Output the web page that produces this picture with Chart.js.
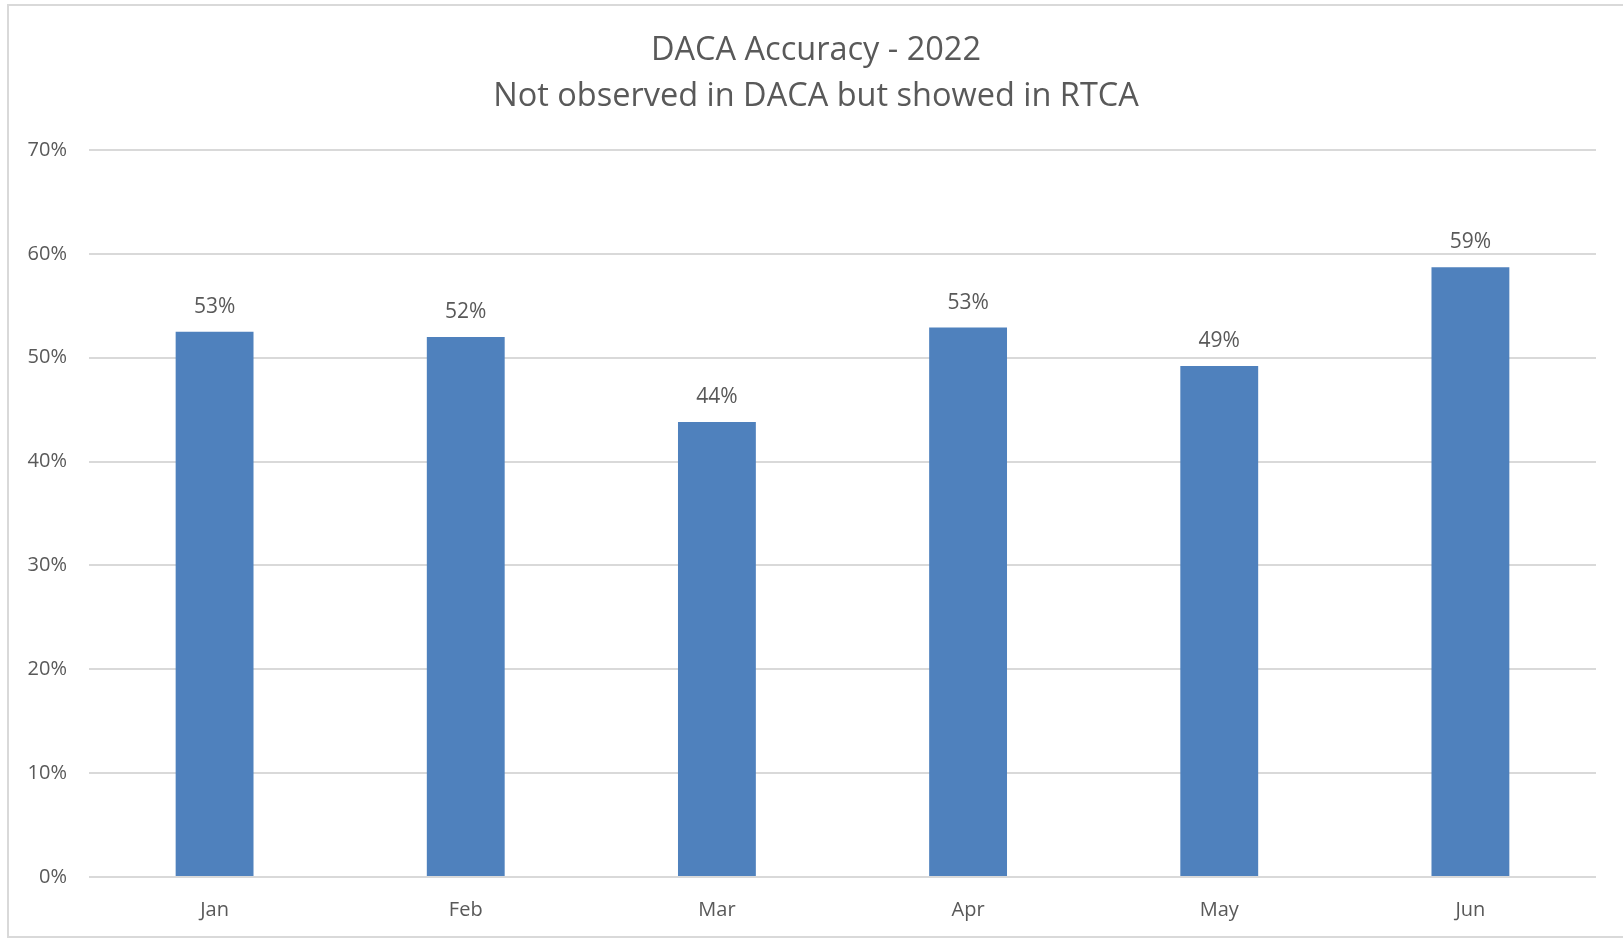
<!DOCTYPE html>
<html>
<head>
<meta charset="utf-8">
<script src="https://cdn.jsdelivr.net/npm/chart.js@4.4.0/dist/chart.umd.min.js"></script>
<style>
  html, body { margin: 0; padding: 0; background: #fff; }
  #wrap { width: 1623px; height: 939px; position: relative; }
</style>
</head>
<body>
<div id="wrap"><canvas id="chart"></canvas></div>
<script>
const months = ['Jan', 'Feb', 'Mar', 'Apr', 'May', 'Jun'];
const accuracy = [52.5, 52.0, 43.8, 52.9, 49.2, 58.7];
const titleLines = ['DACA Accuracy - 2022', 'Not observed in DACA but showed in RTCA'];

const textGrey = '#595959';
const barBlue = '#4F81BD';

// frame around the whole chart, like the Excel chart area
const frame = {
    id: 'frame',
    afterLayout(chart) {
        // center the title over the whole frame, not the padded box
        if (chart.titleBlock) {
            chart.titleBlock.left = 9;
            chart.titleBlock.right = chart.width;
        }
    },
    beforeDraw(chart) {
        const c = chart.ctx;
        c.save();
        c.strokeStyle = '#D9D9D9';
        c.lineWidth = 2;
        c.strokeRect(8, 5, chart.width + 20, chart.height - 7);
        c.restore();
    }
};

// value labels above each bar
const barLabels = {
    id: 'barLabels',
    afterDatasetsDraw(chart) {
        const c = chart.ctx;
        const meta = chart.getDatasetMeta(0);
        c.save();
        c.fillStyle = textGrey;
        c.font = '21px "Open Sans"';
        c.textAlign = 'center';
        c.textBaseline = 'alphabetic';
        meta.data.forEach((bar, i) => {
            const v = chart.data.datasets[0].data[i];
            c.fillText(Math.round(v) + '%', bar.x, bar.y - 19);
        });
        c.restore();
    }
};

const ctx = document.getElementById('chart').getContext('2d');
const myChart = new Chart(ctx, {
    type: 'bar',
    data: {
        labels: months,
        datasets: [
            {
                label: 'Accuracy',
                data: accuracy,
                backgroundColor: barBlue,
                borderWidth: 0,
                categoryPercentage: 1,
                barPercentage: 0.31
            }
        ]
    },
    options: {
        responsive: true,
        maintainAspectRatio: false,
        animation: false,
        layout: {
            padding: { left: 0, right: 27, top: 0, bottom: 0 }
        },
        plugins: {
            legend: { display: false },
            tooltip: { enabled: false },
            title: {
                display: true,
                text: titleLines,
                color: textGrey,
                font: { family: 'Open Sans', size: 32.5, weight: 'normal', lineHeight: 1.4 },
                padding: { top: 28, bottom: 31 }
            }
        },
        scales: {
            x: {
                grid: { display: false },
                border: { display: false },
                ticks: {
                    color: textGrey,
                    font: { family: 'Open Sans', size: 20 },
                    padding: 13
                },
                afterFit(scale) { scale.height = 62; }
            },
            y: {
                min: 0,
                max: 70,
                grid: { color: '#D9D9D9', lineWidth: 2, drawTicks: false },
                border: { display: false },
                ticks: {
                    stepSize: 10,
                    color: textGrey,
                    font: { family: 'Open Sans', size: 20 },
                    padding: 22,
                    callback: v => v + '%'
                },
                afterFit(scale) { scale.width = 89; }
            }
        }
    },
    plugins: [frame, barLabels]
});
</script>
</body>
</html>
